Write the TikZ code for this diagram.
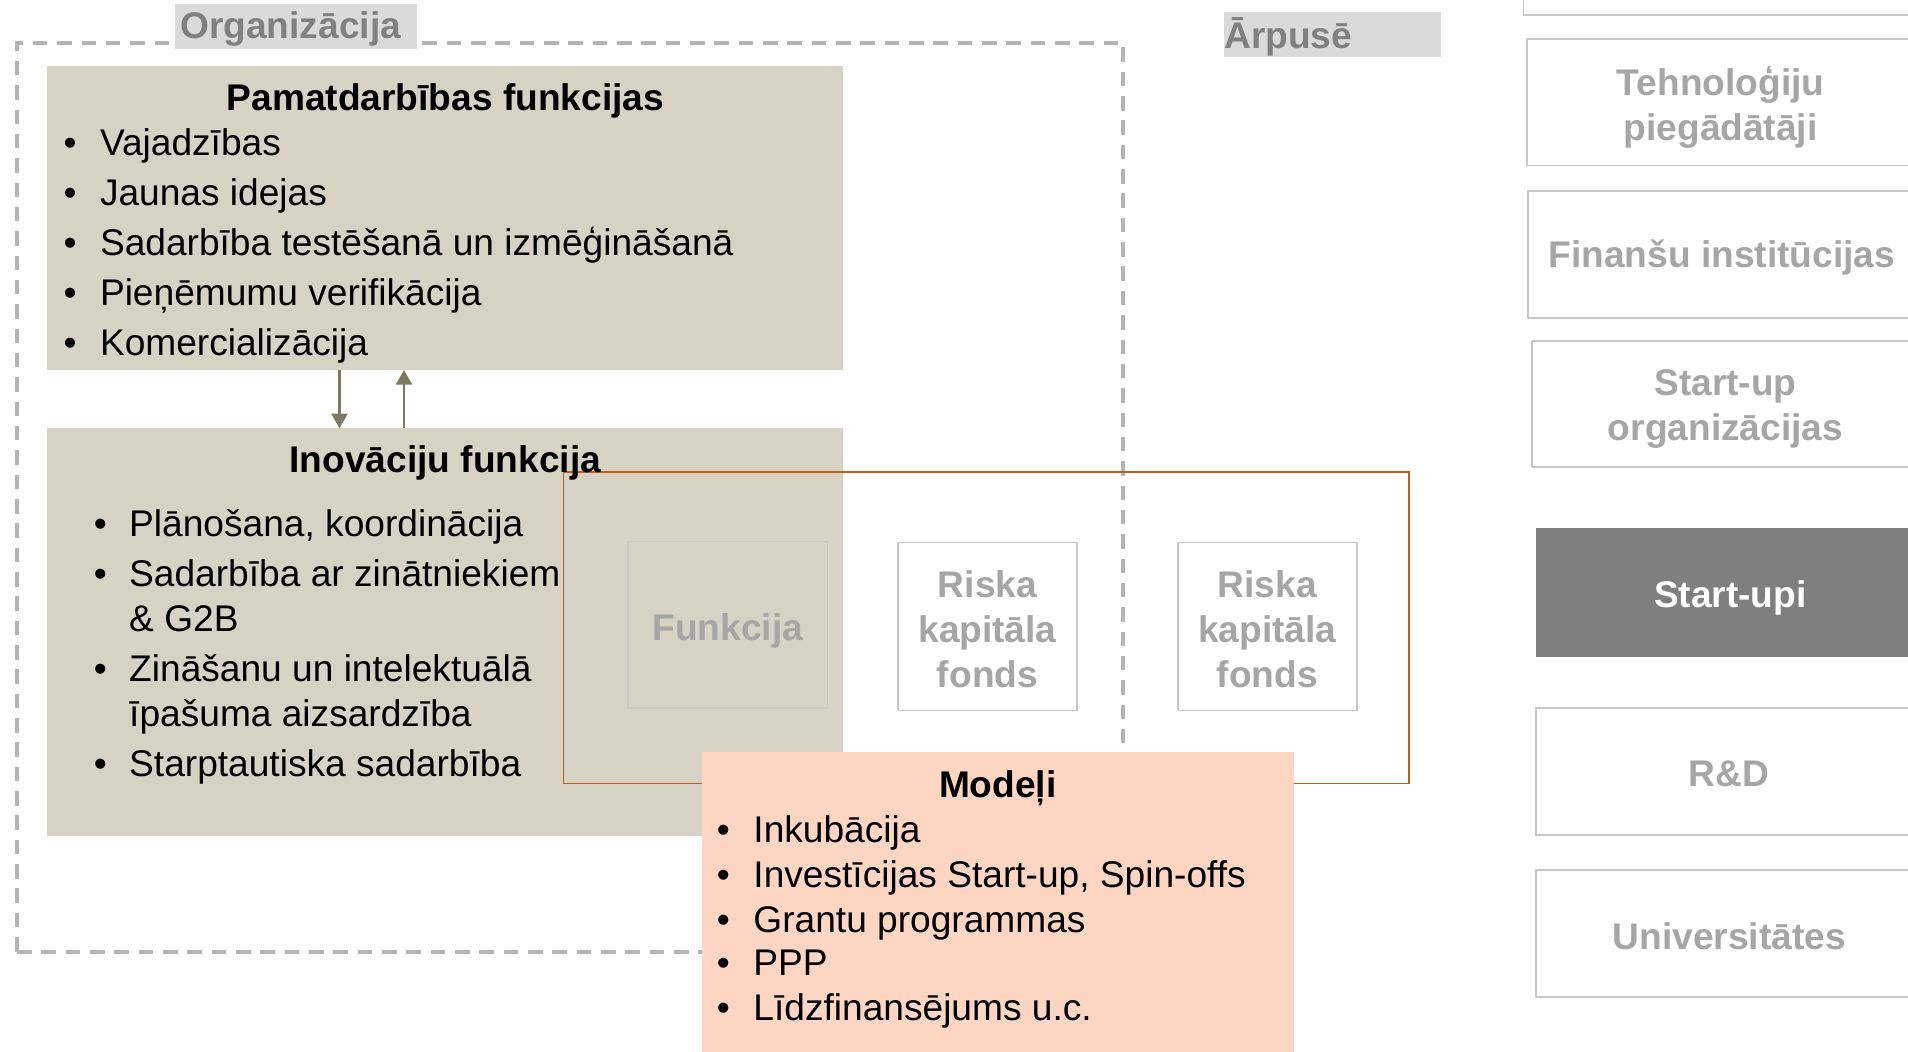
\documentclass[tikz,border=0pt]{standalone}
\usepackage{fontspec}
\setmainfont{Liberation Sans}
\usetikzlibrary{arrows.meta,calc}
\definecolor{tanbg}{RGB}{214,211,197}
\definecolor{peach}{RGB}{252,214,194}
\definecolor{orng}{RGB}{197,90,17}
\definecolor{arrc}{RGB}{127,121,98}
\definecolor{dashc}{RGB}{180,180,180}
\definecolor{lblfill}{RGB}{218,218,218}
\definecolor{lbltext}{RGB}{128,128,128}
\definecolor{ltext}{RGB}{166,166,166}
\definecolor{boxline}{RGB}{200,200,200}
\definecolor{darkbox}{RGB}{127,127,127}
\newcommand{\fs}{\fontsize{30.5}{37}\selectfont}
\begin{document}
\begin{tikzpicture}[x=1pt,y=1pt,
  box/.style={anchor=north west, inner sep=0, outer sep=0},
  tanbox/.style={box, fill=tanbg},
  txt/.style={font=\fs, inner sep=0, text=black},
  ttl/.style={font=\fs\bfseries, inner sep=0, text=black, anchor=base},
  gtxt/.style={font=\fs\bfseries, inner sep=0, text=ltext, align=center},
  extbox/.style={box, draw=boxline, line width=1.5, fill=white, minimum width=318, minimum height=104},
  innerbox/.style={box, draw=boxline, line width=1.2, minimum width=147, minimum height=138},
  arr/.style={draw=arrc, line width=2.4, -{Triangle[width=13,length=12]}},
  lbl/.style={box, fill=lblfill},
  lbltxt/.style={font=\fs\bfseries, text=lbltext, inner sep=0, anchor=base west}
]
\useasboundingbox (0,0) rectangle (1568,-864);

% outer dashed frame
\node[box, draw=dashc, line width=3.3, dash pattern=on 12 off 8, minimum width=909, minimum height=747] (org) at (14,-35) {};

% tan boxes
\node[tanbox, minimum width=654, minimum height=250] (pamat) at (39,-54) {};
\node[tanbox, minimum width=654, minimum height=335] (inov) at (39,-352) {};

% Pamatdarbibas text
\node[ttl] (pt) at (366,-91) {Pamatdarbības funkcijas};
\node[txt, anchor=base west] (p1) at (52,-128) {\makebox[30pt][l]{•}Vajadzības};
\node[txt, anchor=base west] (p2) at (52,-169) {\makebox[30pt][l]{•}Jaunas idejas};
\node[txt, anchor=base west] (p3) at (52,-210) {\makebox[30pt][l]{•}Sadarbība testēšanā un izmēģināšanā};
\node[txt, anchor=base west] (p4) at (52,-251) {\makebox[30pt][l]{•}Pieņēmumu verifikācija};
\node[txt, anchor=base west] (p5) at (52,-292) {\makebox[30pt][l]{•}Komercializācija};

% arrows
\draw[arr] ($(pamat.south west)+(240,0)$) -- ($(inov.north west)+(240,0)$);
\draw[arr] ($(inov.north west)+(293,0)$) -- ($(pamat.south west)+(293,0)$);

% orange frame
\node[box, draw=orng, line width=1.3, minimum width=695, minimum height=256] (orect) at (463,-388) {};

% Inovaciju text
\node[ttl] (it) at (366,-388) {Inovāciju funkcija};
\node[txt, anchor=base west] (i1) at (77,-441) {\makebox[29pt][l]{•}Plānošana, koordinācija};
\node[txt, anchor=base west] (i2) at (77,-482) {\makebox[29pt][l]{•}Sadarbība ar zinātniekiem};
\node[txt, anchor=base west] (i2b) at (106,-519) {\& G2B};
\node[txt, anchor=base west] (i3) at (77,-560) {\makebox[29pt][l]{•}Zināšanu un intelektuālā};
\node[txt, anchor=base west] (i3b) at (106,-597) {īpašuma aizsardzība};
\node[txt, anchor=base west] (i4) at (77,-638) {\makebox[29pt][l]{•}Starptautiska sadarbība};

% inner boxes
\node[innerbox, minimum width=164, minimum height=137] (fun) at (516,-445) {};
\node[gtxt, yshift=-5] (funt) at (fun.center) {Funkcija};
\node[innerbox, fill=white] (rk1) at (738,-446) {};
\node[gtxt, yshift=-2] (rk1t) at (rk1.center) {Riska\\kapitāla\\fonds};
\node[innerbox, fill=white] (rk2) at (968,-446) {};
\node[gtxt, yshift=-2] (rk2t) at (rk2.center) {Riska\\kapitāla\\fonds};

% Modeli
\node[box, fill=peach, minimum width=486, minimum height=252] (mod) at (577,-618) {};
\node[ttl] (mt) at (820,-655) {Modeļi};
\node[txt, anchor=base west] (m1) at (589,-692) {\makebox[30pt][l]{•}Inkubācija};
\node[txt, anchor=base west] (m2) at (589,-729) {\makebox[30pt][l]{•}Investīcijas Start-up, Spin-offs};
\node[txt, anchor=base west] (m3) at (589,-766) {\makebox[30pt][l]{•}Grantu programmas};
\node[txt, anchor=base west] (m4) at (589,-802) {\makebox[30pt][l]{•}PPP};
\node[txt, anchor=base west] (m5) at (589,-839) {\makebox[30pt][l]{•}Līdzfinansējums u.c.};

% labels
\node[lbl, minimum width=199, minimum height=37] (orgl) at (144,-3) {};
\node[lbltxt] (orglt) at (148,-32) {Organizācija};
\node[lbl, minimum width=178, minimum height=37] (arpl) at (1006,-10) {};
\node[lbltxt] (arplt) at (1006,-39.5) {Ārpusē};

% external boxes
\node[extbox] (e0) at (1252,92) {};
\node[extbox] (e1) at (1255,-32) {};
\node[gtxt, yshift=-4] (e1t) at (e1.center) {Tehnoloģiju\\piegādātāji};
\node[extbox] (e2) at (1256,-157) {};
\node[gtxt, yshift=-3] (e2t) at (e2.center) {Finanšu institūcijas};
\node[extbox] (e3) at (1259,-280) {};
\node[gtxt, yshift=-4] (e3t) at (e3.center) {Start-up\\organizācijas};
\node[extbox, fill=darkbox, draw=darkbox] (e4) at (1263,-435) {};
\node[gtxt, text=white, yshift=-4] (e4t) at (e4.center) {Start-upi};
\node[extbox] (e5) at (1262,-582) {};
\node[gtxt, yshift=-2] (e5t) at (e5.center) {R\&D};
\node[extbox] (e6) at (1262,-715) {};
\node[gtxt, yshift=-2] (e6t) at (e6.center) {Universitātes};
\end{tikzpicture}
\end{document}
